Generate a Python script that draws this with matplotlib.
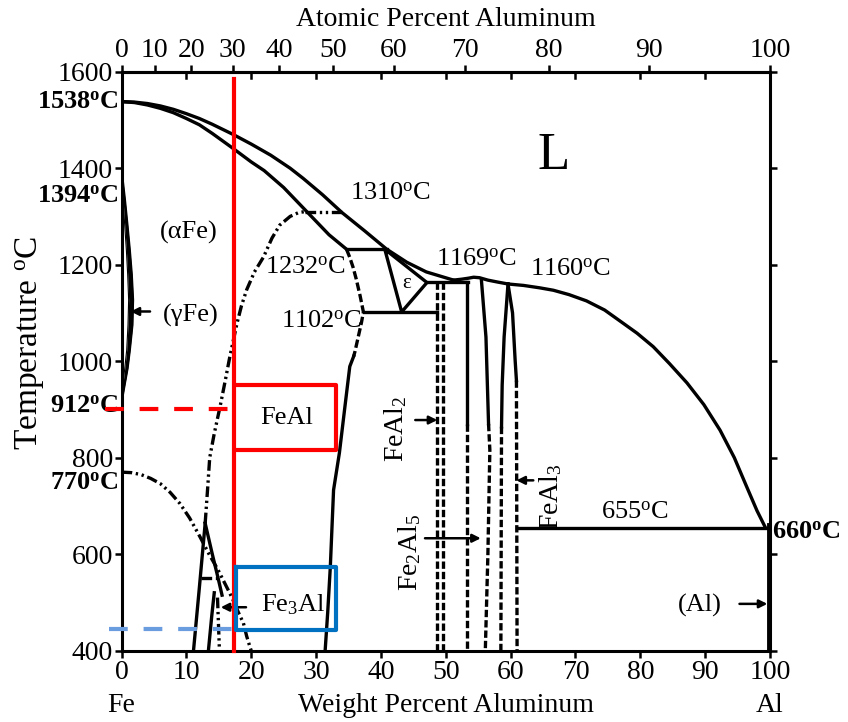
import numpy as np
import matplotlib
matplotlib.use('Agg')
import matplotlib.pyplot as plt

plt.rcParams['font.family'] = ['Liberation Serif', 'DejaVu Serif']
plt.rcParams['mathtext.fontset'] = 'custom'
plt.rcParams['mathtext.rm'] = 'Liberation Serif'
plt.rcParams['mathtext.it'] = 'Liberation Serif:italic'
plt.rcParams['mathtext.bf'] = 'Liberation Serif:bold'

# --- data (wt% Al, temperature in C) ---
liq_left_w = [0, 2, 4, 6, 8, 10, 12, 14, 17.2, 20, 23, 26, 28, 31, 34, 37.5, 40.9, 44, 47, 51.2]
liq_left_t = [1538, 1537, 1534, 1529, 1522, 1513, 1503, 1491, 1470, 1450, 1427, 1400, 1379,
              1345, 1308, 1270, 1232, 1205, 1185, 1168]
liq_right_w = [51.2, 52.5, 53.5, 54.3, 55.2, 56.5, 58, 59.6, 62, 64.5, 66.6, 69, 71.7, 74.5,
               76.9, 79.5, 82, 84.5, 87.2, 89.8, 92.3, 94.5, 96.4, 98, 99.3]
liq_right_t = [1168, 1170, 1172, 1174, 1173, 1168, 1164, 1160, 1157, 1152, 1147, 1138, 1125,
               1106, 1083, 1058, 1030, 995, 955, 910, 857, 800, 740, 690, 655]
sol_w = [0, 2, 4, 6, 8, 10, 12, 14, 17.2, 20, 22, 25, 27.5, 30, 32, 34.7]
sol_t = [1538, 1536, 1531, 1524, 1515, 1503, 1490, 1472, 1441, 1413, 1395, 1360, 1325, 1290,
         1262, 1232]

gamma_t = [1394, 1370, 1334, 1280, 1230, 1180, 1127, 1075, 1023, 985, 955, 932, 912]
gamma_out_w = [0, 0.25, 0.55, 0.95, 1.3, 1.6, 1.8, 1.7, 1.3, 0.95, 0.55, 0.25, 0]
gamma_in_w = [0, 0.1, 0.25, 0.5, 0.75, 0.95, 1.1, 1.0, 0.8, 0.5, 0.25, 0.1, 0]

b2_dome_w = [12.9, 13.3, 13.6, 14.3, 15.2, 16.0, 16.7, 17.8, 18.5, 19.3, 20.5, 21.9, 23.2,
             24.4, 26.0, 27.3, 28.3]
b2_dome_t = [664, 740, 800, 850, 906, 960, 1009, 1078, 1115, 1148, 1185, 1216, 1255, 1282,
             1300, 1308, 1310]
b2_right_dash_w = [34.7, 35.2, 35.7, 36.2, 36.8, 37.3, 37.0, 36.5, 36.0, 35.8]
b2_right_dash_t = [1232, 1215, 1195, 1170, 1135, 1102, 1080, 1050, 1020, 1010]
b2_right_w = [35.8, 35.2, 34.4, 33.6, 32.7, 32.2, 31.8, 31.4]
b2_right_t = [1010, 989, 900, 810, 733, 574, 480, 400]

curie_w = [0, 1.5, 3, 4.5, 6, 7.5, 9, 10.5, 12.1, 13.5, 14.9, 15.8, 16.7, 17.2, 18.0, 18.8,
           19.3, 19.8, 20.0]
curie_t = [770, 769, 765, 757, 746, 728, 705, 675, 636, 600, 567, 543, 519, 505, 480, 457,
           430, 408, 400]

d03_left_w = [12.9, 12.0, 11.1]
d03_left_t = [664, 530, 400]
d03_right_w = [12.9, 14.0, 14.9, 15.5]
d03_right_t = [664, 600, 550, 515]
d03_inner_w = [14.3, 13.9, 13.4]
d03_inner_t = [520, 470, 400]
d03_dd_w = [14.8, 15.1]
d03_dd_t = [510, 400]

eps_w = [40.6, 43.2, 47.1, 40.6]
eps_t = [1232, 1102, 1163, 1232]

feal2_w = [48.6, 49.5]
fe2al5_left_w = 53.2
fe2al5_right_w = [55.5, 56.2, 56.6, 56.8, 56.5, 56.1]
fe2al5_right_t = [1168, 1050, 870, 816, 600, 400]
feal3_left_w = [59.6, 59.0, 58.7, 58.6]
feal3_left_t = [1160, 1050, 950, 864]
feal3_right_w = [59.6, 60.3, 60.7, 60.9]
feal3_right_t = [1160, 1100, 1002, 960]

# invariant lines: (w1, w2, T)
h1310 = (28.3, 34.0, 1310)
h1232 = (34.7, 40.9, 1232)
h1169 = (47.1, 53.4, 1164)
h1102 = (37.4, 48.6, 1102)
h655 = (61.1, 99.5, 655)
h_d03 = (12.2, 14.9, 550)

x_ticks = list(range(0, 101, 10))
y_ticks = list(range(400, 1601, 200))
at_ticks = list(range(0, 101, 10))

steel_wt = 17.35
red_box = (17.7, 33.1, 816, 951)
blue_box = (17.7, 33.1, 442, 573)
red_dash_t = 900
blue_dash_t = 445

M_AL, M_FE = 26.98, 55.845


def at_to_wt(a):
    a = np.asarray(a, dtype=float)
    return a * M_AL / (a * M_AL + (100 - a) * M_FE) * 100


def wt_to_at(w):
    w = np.clip(np.asarray(w, dtype=float), 0, 100)
    return (w / M_AL) / (w / M_AL + (100 - w) / M_FE) * 100


fig = plt.figure(figsize=(8.48, 7.22), dpi=100)
ax = fig.add_axes([0.1433, 0.0988, 0.7647, 0.8019])
ax.set_xlim(0, 100)
ax.set_ylim(400, 1600)

LW = 2.4
ddot = (0, (3.2, 1.1, 0.7, 1.1, 0.7, 1.1))
sdash = (0, (2.2, 0.9))
k = 'black'

ax.plot(liq_left_w, liq_left_t, color=k, lw=LW)
ax.plot(liq_right_w, liq_right_t, color=k, lw=LW)
ax.plot(sol_w, sol_t, color=k, lw=LW)
ax.fill_betweenx(gamma_t, gamma_in_w, gamma_out_w, color=k, lw=0)
ax.plot(gamma_out_w, gamma_t, color=k, lw=1.4)
ax.plot(gamma_in_w, gamma_t, color=k, lw=0.8)

ax.plot(b2_dome_w, b2_dome_t, color=k, lw=LW, linestyle=ddot)
ax.plot(b2_right_dash_w, b2_right_dash_t, color=k, lw=LW, linestyle=(0, (2.5, 1.0)))
ax.plot(b2_right_w, b2_right_t, color=k, lw=LW)
ax.plot(curie_w, curie_t, color=k, lw=LW, linestyle=ddot)
ax.plot(d03_left_w, d03_left_t, color=k, lw=LW)
ax.plot(d03_right_w, d03_right_t, color=k, lw=LW)
ax.plot(d03_inner_w, d03_inner_t, color=k, lw=LW)
ax.plot(d03_dd_w, d03_dd_t, color=k, lw=LW, linestyle=ddot)
ax.plot(eps_w, eps_t, color=k, lw=LW)

for w1, w2, t in [h1232, h1169, h1102, h655]:
    ax.plot([w1, w2], [t, t], color=k, lw=LW)
for w1, w2, t in [h1310, h_d03]:
    ax.plot([w1, w2], [t, t], color=k, lw=LW, linestyle=ddot)

for w in feal2_w:
    ax.plot([w, w], [h1169[2], 400], color=k, lw=LW, linestyle=sdash)
ax.plot([fe2al5_left_w, fe2al5_left_w], [h1169[2], 870], color=k, lw=LW)
ax.plot([fe2al5_left_w, fe2al5_left_w], [870, 400], color=k, lw=LW, linestyle=sdash)
ax.plot(fe2al5_right_w[:3], fe2al5_right_t[:3], color=k, lw=LW)
ax.plot(fe2al5_right_w[2:], fe2al5_right_t[2:], color=k, lw=LW, linestyle=sdash)
ax.plot(feal3_left_w, feal3_left_t, color=k, lw=LW)
ax.plot([feal3_left_w[-1], 58.5], [feal3_left_t[-1], 400], color=k, lw=LW, linestyle=sdash)
ax.plot(feal3_right_w, feal3_right_t, color=k, lw=LW)
ax.plot([feal3_right_w[-1], 61.0], [feal3_right_t[-1], 400], color=k, lw=LW, linestyle=sdash)
ax.plot([99.8, 99.8], [400, 660], color=k, lw=3.5)

# highlight overlays
red = '#ff0000'
ax.plot([steel_wt, steel_wt], [400, 1585], color=red, lw=3.0, clip_on=False, zorder=5)
x0, x1, y0, y1 = red_box
ax.plot([x0, x1, x1, x0], [y1, y1, y0, y0], color=red, lw=3.0, zorder=5)
ax.plot([-2.5, steel_wt], [red_dash_t, red_dash_t], color=red, lw=3.0,
        linestyle=(0, (4.5, 3.8)), clip_on=False, zorder=5)
x0, x1, y0, y1 = blue_box
ax.plot([x0, x1, x1, x0, x0], [y1, y1, y0, y0, y1], color='#0070c0', lw=3.0, zorder=5)
ax.plot([-2.0, steel_wt], [blue_dash_t, blue_dash_t], color='#6a9de0', lw=3.0,
        linestyle=(0, (4.5, 3.8)), clip_on=False, zorder=5)

# axes styling
for s in ax.spines.values():
    s.set_linewidth(2.2)
ax.set_xticks(x_ticks)
ax.set_yticks(y_ticks)
ax.tick_params(axis='x', bottom=True, top=False, direction='out', length=5, width=1.8,
               labelsize=20, pad=2)
ax.tick_params(axis='y', left=True, right=True, direction='out', length=5, width=1.8,
               labelsize=20, pad=1)
sec = ax.secondary_xaxis('top', functions=(wt_to_at, at_to_wt))
sec.set_xticks(at_ticks)
sec.tick_params(direction='out', length=5, width=1.8, labelsize=20, pad=1)
sec.spines['top'].set_linewidth(2.2)
sec.set_xlabel('Atomic Percent Aluminum', fontsize=20, labelpad=9)
for w in x_ticks[1:-1]:
    ax.plot([w, w], [1600, 1587], color=k, lw=1.8, clip_on=False)

# labels
fs = 19
ax.text(-0.5, 1538, r'1538$^{\mathbf{o}}$C', ha='right', va='center', fontsize=fs, fontweight='bold')
ax.text(-0.5, 1342, r'1394$^{\mathbf{o}}$C', ha='right', va='center', fontsize=fs, fontweight='bold')
ax.text(-0.5, 906, r'912$^{\mathbf{o}}$C', ha='right', va='center', fontsize=fs, fontweight='bold')
ax.text(-0.5, 748, r'770$^{\mathbf{o}}$C', ha='right', va='center', fontsize=fs, fontweight='bold')
ax.text(100.3, 646, r'660$^{\mathbf{o}}$C', ha='left', va='center', fontsize=fs, fontweight='bold')

ax.text(66.6, 1426, 'L', ha='center', va='center', fontsize=38)
ax.text(41.4, 1348, r'1310$^{\rm o}$C', ha='center', va='center', fontsize=fs)
ax.text(10.4, 1267, '(αFe)', ha='center', va='center', fontsize=fs)
ax.text(34.6, 1193, r'1232$^{\rm o}$C', ha='right', va='center', fontsize=fs)
ax.text(54.7, 1210, r'1169$^{\rm o}$C', ha='center', va='center', fontsize=fs)
ax.text(69.2, 1189, r'1160$^{\rm o}$C', ha='center', va='center', fontsize=fs)
ax.text(43.9, 1162, 'ε', ha='center', va='center', fontsize=15)
ax.text(37.0, 1083, r'1102$^{\rm o}$C', ha='right', va='center', fontsize=fs)
ax.text(10.6, 1095, '(γFe)', ha='center', va='center', fontsize=fs)
ax.text(25.5, 882, 'FeAl', ha='center', va='center', fontsize=fs)
ax.text(26.5, 495, r'Fe$_3$Al', ha='center', va='center', fontsize=fs)
ax.text(42.2, 860, r'FeAl$_2$', ha='center', va='center', fontsize=20, rotation=90)
ax.text(44.5, 604, r'Fe$_2$Al$_5$', ha='center', va='center', fontsize=20, rotation=90)
ax.text(66.1, 720, r'FeAl$_3$', ha='center', va='center', fontsize=20, rotation=90)
ax.text(79.2, 687, r'655$^{\rm o}$C', ha='center', va='center', fontsize=fs)
ax.text(89.2, 494, '(Al)', ha='center', va='center', fontsize=fs)

arrows = [((4.4, 1103), (1.4, 1103)),
          ((45.3, 878), (48.7, 878)),
          ((46.8, 633), (55.4, 633)),
          ((63.5, 753), (60.9, 753)),
          ((95.3, 497), (99.6, 497)),
          ((19.2, 490), (15.3, 490))]
for (xs, ys), (xe, ye) in arrows:
    ax.annotate('', xy=(xe, ye), xytext=(xs, ys),
                arrowprops=dict(arrowstyle='-|>', color=k, lw=1.8, mutation_scale=12,
                                shrinkA=0, shrinkB=0))

ax.text(0, -0.094, 'Fe', transform=ax.get_xaxis_transform(), ha='center', va='center', fontsize=20)
ax.text(50, -0.094, 'Weight Percent Aluminum', transform=ax.get_xaxis_transform(),
        ha='center', va='center', fontsize=20)
ax.text(100, -0.094, 'Al', transform=ax.get_xaxis_transform(), ha='center', va='center', fontsize=20)
fig.text(30 / 848, 1 - 343 / 722, r'Temperature $^{\rm o}$C', rotation=90,
         ha='center', va='center', fontsize=24)

fig.savefig('out.png', dpi=100)
